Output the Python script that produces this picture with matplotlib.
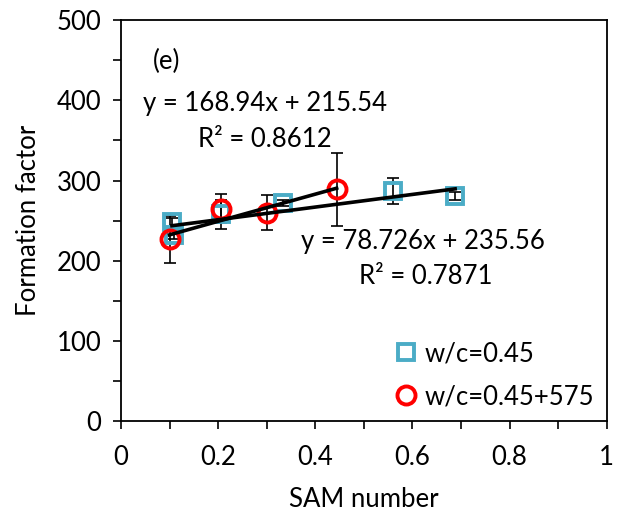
import matplotlib.pyplot as plt
import numpy as np

plt.rcParams['font.family'] = ['Lato', 'DejaVu Sans']

# w/c = 0.45
sam_a = [0.105, 0.11, 0.205, 0.333, 0.56, 0.688]
ff_a = [248, 232, 258, 272, 287, 281]
err_a = [6, 5, 18, 4, 16, 5]

# w/c = 0.45 + 575
sam_b = [0.10, 0.205, 0.30, 0.444]
ff_b = [227, 265, 260, 289]
err_b = [29, 18, 22, 45]

# trendline coefficients (slope, intercept, R^2)
fit_a = (78.726, 235.56, 0.7871)
fit_b = (168.94, 215.54, 0.8612)

blue = '#4BACC6'
red = '#FF0000'

fig = plt.figure(figsize=(6.3, 5.14), dpi=100)
ax = fig.add_axes([0.192, 0.180, 0.771, 0.781])

ax.errorbar(sam_a, ff_a, yerr=err_a, fmt='none', ecolor='black', elinewidth=1.2,
            capsize=4, capthick=1.2, zorder=2)
ax.errorbar(sam_b, ff_b, yerr=err_b, fmt='none', ecolor='black', elinewidth=1.2,
            capsize=4, capthick=1.2, zorder=2)

ax.plot(sam_a, ff_a, 's', ms=12, mfc='none', mec=blue, mew=2.8, zorder=3,
        label='w/c=0.45')
ax.plot(sam_b, ff_b, 'o', ms=13, mfc='none', mec=red, mew=2.8, zorder=4,
        label='w/c=0.45+575')

# linear trendlines over each series' range
for xs, (m, c, r2) in [(sam_a, fit_a), (sam_b, fit_b)]:
    xx = np.array([min(xs), max(xs)])
    ax.plot(xx, m * xx + c, color='black', lw=2.6, zorder=5)

fs = 18.5
ax.text(0.066, 448, '(e)', fontsize=fs, va='center')
ax.text(0.045, 396, f'y = {fit_b[0]:.2f}x + {fit_b[1]:.2f}', fontsize=fs, va='center')
ax.text(0.159, 351, f'R² = {fit_b[2]:.4f}', fontsize=fs, va='center')
ax.text(0.37, 224, f'y = {fit_a[0]:.3f}x + {fit_a[1]:.2f}', fontsize=fs, va='center')
ax.text(0.49, 180, f'R² = {fit_a[2]:.4f}', fontsize=fs, va='center')

ax.legend(loc='upper left', bbox_to_anchor=(0.545, 0.225), frameon=False,
          fontsize=fs, handlelength=0.8, handletextpad=0.3, labelspacing=0.7,
          borderaxespad=0)

ax.set_xlim(0, 1)
ax.set_ylim(0, 500)
ax.set_xticks(np.arange(0, 1.01, 0.2))
ax.set_xticklabels(['0', '0.2', '0.4', '0.6', '0.8', '1'])
ax.set_xticks(np.arange(0.1, 1.0, 0.2), minor=True)
ax.set_yticks(np.arange(0, 501, 100))
ax.set_yticks(np.arange(50, 500, 100), minor=True)
ax.tick_params(axis='both', which='both', direction='out', labelsize=fs,
               width=1.2, length=6)
ax.tick_params(axis='x', pad=11)
ax.tick_params(axis='y', pad=8)
for s in ax.spines.values():
    s.set_linewidth(1.3)

ax.set_xlabel('SAM number', fontsize=fs, labelpad=12)
ax.set_ylabel('Formation factor', fontsize=fs, labelpad=11)

fig.savefig('out.png', dpi=100)
